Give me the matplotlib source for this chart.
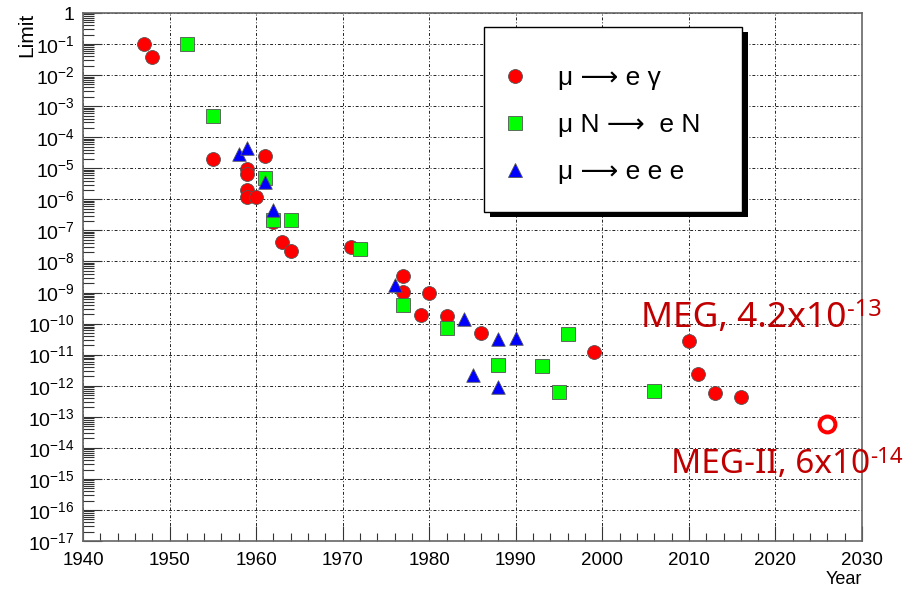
import math

import matplotlib
matplotlib.use('Agg')
import matplotlib.pyplot as plt
from matplotlib.lines import Line2D
from matplotlib.patches import Rectangle
from matplotlib.ticker import FixedLocator, LogLocator, FuncFormatter, MultipleLocator, NullFormatter

plt.rcParams['font.family'] = ['Liberation Sans', 'DejaVu Sans']
plt.rcParams['mathtext.fontset'] = 'custom'
plt.rcParams['mathtext.rm'] = 'Liberation Sans'
plt.rcParams['mathtext.it'] = 'Liberation Sans:italic'
plt.rcParams['mathtext.bf'] = 'Liberation Sans:bold'

# mu -> e gamma
meg_years = [1947, 1948, 1955, 1959, 1959, 1961, 1959, 1959, 1960, 1962, 1963, 1964,
             1971, 1977, 1977, 1979, 1980, 1982, 1986, 1999, 2010, 2011, 2013, 2016]
meg_limits = [1e-1, 3.8e-2, 2e-5, 9.5e-6, 6.5e-6, 2.5e-5, 2e-6, 1.2e-6, 1.2e-6, 1.9e-7, 4.3e-8, 2.2e-8,
              2.9e-8, 3.4e-9, 1.07e-9, 1.9e-10, 1e-9, 1.7e-10, 4.9e-11, 1.2e-11, 2.8e-11, 2.4e-12, 5.7e-13, 4.2e-13]

# mu N -> e N
mec_years = [1952, 1955, 1961, 1962, 1964, 1972, 1977, 1982, 1988, 1993, 1995, 1996, 2006]
mec_limits = [1e-1, 4.8e-4, 5e-6, 2.1e-7, 2.2e-7, 2.5e-8, 4e-10, 7e-11, 4.6e-12, 4.3e-12, 6.5e-13, 4.6e-11, 7e-13]

# mu -> e e e
m3e_years = [1958, 1959, 1961, 1962, 1976, 1984, 1985, 1988, 1988, 1990]
m3e_limits = [2.9e-5, 4.5e-5, 3.7e-6, 4.5e-7, 1.7e-9, 1.4e-10, 2.2e-12, 3.2e-11, 9.3e-13, 3.4e-11]

# MEG-II projected sensitivity
meg2_year = [2026]
meg2_limit = [6e-14]

decades = list(range(0, -18, -1))
x_major = list(range(1940, 2031, 10))

W, H = 921, 590


def decade_label(v, pos):
    if abs(v - 1) < 1e-9:
        return '1'
    return r'$10^{%d}$' % round(math.log10(v))


fig = plt.figure(figsize=(W / 100, H / 100), dpi=100)
ax = fig.add_axes([83 / W, 1 - 541 / H, (862 - 83) / W, (541 - 13) / H])

edge = '#555555'
ax.scatter(meg_years, meg_limits, s=100, marker='o', c='#ff0000', edgecolors=edge, linewidths=0.6, zorder=3)
ax.scatter(mec_years, mec_limits, s=100, marker='s', c='#00ff00', edgecolors=edge, linewidths=0.6, zorder=4)
ax.scatter(m3e_years, m3e_limits, s=95, marker='^', c='#0000ff', edgecolors=edge, linewidths=0.6, zorder=5)
ax.scatter(meg2_year, meg2_limit, s=130, marker='o', facecolors='white', edgecolors='#ff0000',
           linewidths=2.9, zorder=5)

ax.set_yscale('log')
ax.set_xlim(1940, 2030)
ax.set_ylim(1e-17, 1)

ax.yaxis.set_major_locator(FixedLocator([10.0 ** d for d in decades]))
ax.yaxis.set_major_formatter(FuncFormatter(decade_label))
ax.yaxis.set_minor_locator(LogLocator(base=10, subs=range(2, 10), numticks=100))
ax.yaxis.set_minor_formatter(NullFormatter())
ax.xaxis.set_major_locator(FixedLocator(x_major))
ax.xaxis.set_minor_locator(MultipleLocator(2))

ax.tick_params(axis='both', which='both', direction='in', colors='#333333', width=0.8,
               top=False, right=False)
ax.tick_params(axis='y', which='major', length=14, pad=6, labelsize=14, labelcolor='black')
ax.tick_params(axis='y', which='minor', length=8)
ax.tick_params(axis='x', which='major', length=11, pad=8, labelsize=13.5, labelcolor='black')
ax.tick_params(axis='x', which='minor', length=6)

ax.grid(True, which='major', color='#222222', linewidth=0.7, linestyle=(0, (3, 2, 1, 2)))
for sp in ax.spines.values():
    sp.set_color('#666666')
    sp.set_linewidth(1.2)

fig.text(27 / W, 1 - 13 / H, 'Limit', rotation=90, ha='center', va='top', fontsize=15)
fig.text(862 / W, 1 - 580 / H, 'Year', ha='right', va='center', fontsize=13)

# labels for MEG result and MEG-II goal
dark_red = '#c00000'
label_font = ['Noto Sans', 'DejaVu Sans']
t1 = ax.text(2004.5, 7.8e-11, 'MEG, 4.2x10', fontsize=25.5, color=dark_red,
             family=label_font, ha='left', va='baseline')
ax.annotate('-13', xy=(1.0, 0.38), xycoords=t1, fontsize=17, color=dark_red,
            family=label_font, ha='left', va='bottom')
t2 = ax.text(2007.9, 1.55e-15, 'MEG-II, 6x10', fontsize=24, color=dark_red,
             family=label_font, ha='left', va='baseline')
ax.annotate('-14', xy=(1.0, 0.38), xycoords=t2, fontsize=16, color=dark_red,
            family=label_font, ha='left', va='bottom')

# legend box with a solid drop shadow, entries laid out inside it
box_x0, box_y0, box_x1, box_y1 = 484, 27, 742, 212
box = [box_x0 / W, 1 - box_y1 / H, (box_x1 - box_x0) / W, (box_y1 - box_y0) / H]
fig.patches.append(Rectangle((box[0] + 6 / W, box[1] - 5 / H), box[2], box[3], transform=fig.transFigure,
                             facecolor='black', edgecolor='none', zorder=8))
fig.patches.append(Rectangle((box[0], box[1]), box[2], box[3], transform=fig.transFigure,
                             facecolor='white', edgecolor='black', linewidth=1.0, zorder=9))

handles = [
    Line2D([], [], ls='none', marker='o', ms=10, mfc='#ff0000', mec=edge, mew=0.6),
    Line2D([], [], ls='none', marker='s', ms=10, mfc='#00ff00', mec=edge, mew=0.6),
    Line2D([], [], ls='none', marker='^', ms=10, mfc='#0000ff', mec=edge, mew=0.6),
]
labels = ['μ ⟶ e γ', 'μ N ⟶  e N', 'μ ⟶ e e e']
leg = fig.legend(handles, labels, loc='center left',
                 bbox_to_anchor=(box[0], box[1] - 5.5 / H, box[2], box[3]),
                 bbox_transform=fig.transFigure,
                 prop={'family': ['Liberation Sans', 'DejaVu Sans'], 'size': 19},
                 frameon=False, borderpad=0, labelspacing=0.88,
                 handlelength=0.57, handletextpad=1.35, borderaxespad=0.9)
leg.set_zorder(10)

fig.savefig('out.png', dpi=100)
